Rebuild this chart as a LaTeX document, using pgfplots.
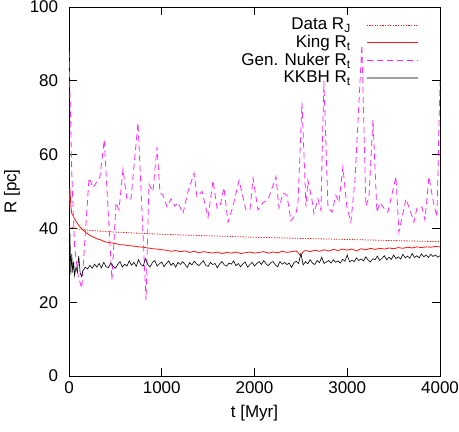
\documentclass[border=0pt]{standalone}
\usepackage{fontspec}
\setmainfont{Liberation Sans}
\usepackage{pgfplots}
\usepackage{pgfplotstable}
\pgfplotsset{compat=1.18}
\definecolor{mag}{RGB}{255,40,255}
\definecolor{gred}{RGB}{255,20,20}
\definecolor{lgray}{RGB}{160,160,160}

\pgfplotstableread{
t R
0 40.5
100 39.8
250 39.4
500 39.0
750 38.7
1000 38.4
1500 38.0
2000 37.6
2500 37.3
3000 37.0
3500 36.7
4000 36.4
}\dataRJ

\pgfplotstableread{
t R
0 45.5
10 51
20 46
30 44
45 43.5
60 42.5
80 41.8
100 41
125 40.2
150 39.6
175 39
200 38.6
225 38.1
250 37.8
275 37.5
300 37.2
325 37
350 36.8
375 36.5
400 36.3
450 36.1
500 35.9
550 35.6
600 35.5
650 35.3
700 35.2
750 35
800 34.9
850 34.7
900 34.5
950 34.4
1000 34.2
1050 34.1
1100 33.8
1150 34
1200 33.7
1250 33.9
1300 33.5
1350 33.8
1400 33.4
1450 33.7
1500 33.5
1550 33.3
1600 33.6
1650 33.2
1700 33.5
1750 33.3
1800 33.6
1850 33.2
1900 33.4
1950 33.6
2000 33.3
2050 33.5
2100 33.7
2150 33.3
2200 33.6
2250 33.4
2300 33.8
2350 33.5
2400 33.7
2450 33.9
2500 32.5
2525 33.8
2550 34
2600 33.7
2650 34.1
2700 33.8
2750 34.2
2800 33.9
2850 34.3
2900 34
2950 34.4
3000 34.1
3050 34.4
3100 33.9
3150 34.5
3200 34.2
3250 34.6
3300 34.3
3350 34.6
3400 34.4
3450 34.7
3500 34.5
3550 34.8
3600 34.6
3650 34.9
3700 34.7
3750 35
3800 34.8
3850 35
3900 34.9
3950 35.1
4000 35
}\king

\pgfplotstableread{
t R
0 88
30 55
60 35
100 27
137 23.8
216 53.7
260 51
334 54
380 64
463 26
507 47
539 45
582 56
625 47.7
668 48
744 68.6
830 20.6
862 52
905 50
949 62
981 49.6
1013 49
1057 45.8
1100 48
1143 46
1175 47
1229 44
1283 50
1348 55
1380 48.5
1434 50
1499 43
1553 53
1596 45.5
1628 46
1671 51
1714 41.7
1768 46
1833 53
1908 45
1951 45
1984 53.6
2038 45
2091 47
2145 47.7
2232 54
2264 45.5
2307 49.6
2350 49
2393 42
2447 44
2469 47
2512 74
2555 45.8
2576 53
2620 47.7
2641 44
2684 48
2716 45
2748 80
2792 45.8
2835 44.4
2878 49
2910 47
2953 56.6
2996 45.8
3039 41.7
3083 53
3158 89.7
3201 46
3234 48.5
3277 69.4
3320 44.4
3352 47
3395 45.5
3438 44.4
3525 54
3557 39
3633 48
3676 45
3719 41.7
3751 45.5
3805 45.8
3838 42.3
3881 54
3924 47.7
3967 43
4000 80
}\nuker

\pgfplotstableread{
t R
0 31.5
10 38.7
20 27.5
30 33
40 28
50 31
60 27.2
75 29.5
90 28.2
105 32.5
120 28
135 27
150 28.5
175 29.5
200 29
225 30
250 29.2
275 30.3
300 29.5
325 30.5
350 29.3
375 30.8
400 29.6
425 29.4
450 30.6
475 29.8
500 29.2
525 30.2
550 31
575 29.5
600 30.3
625 29.8
650 31.2
675 30
700 30.8
725 29.7
750 31.5
775 30.2
800 29.8
825 31.8
850 30.2
875 29.6
900 30.8
925 31.3
950 29.8
975 30.4
1000 30.9
1025 29.6
1050 30.5
1075 31.2
1100 30
1125 30.6
1150 29.5
1175 30.8
1200 30.2
1225 31
1250 30.3
1275 29.4
1300 30.7
1325 30.1
1350 31.1
1375 30.4
1400 29.9
1425 30.6
1450 31.2
1475 30
1500 29.7
1525 30.8
1550 30.2
1575 30.5
1600 29.3
1625 30.4
1650 31
1675 30.1
1700 29.8
1725 30.6
1750 30.3
1775 31.2
1800 29.9
1825 30.5
1850 29.6
1875 30.4
1900 30.9
1925 29.5
1950 30.2
1975 30.8
2000 29.8
2025 30.5
2050 31
2075 30.2
2100 31.3
2125 30.4
2150 29.9
2175 30.7
2200 31
2225 30.1
2250 29.6
2275 31
2300 30.3
2325 30.8
2350 30.2
2375 30.6
2400 29.4
2425 30.7
2450 31.1
2475 30.5
2500 33.2
2525 30.1
2550 31
2575 30.4
2600 31.5
2625 30.6
2650 30.2
2675 31.3
2700 30.7
2725 32.2
2750 30.5
2775 30.9
2800 31.3
2825 30.6
2850 31.5
2875 30.8
2900 31.2
2925 30.6
2950 31.6
2975 31.1
3000 32.8
3025 30.9
3050 31.4
3075 31
3100 32
3125 31.3
3150 31.7
3175 31.2
3200 32.3
3225 31.4
3250 30.9
3275 31.8
3300 31.5
3325 32.5
3350 31.3
3375 31.9
3400 32.6
3425 31.5
3450 32.2
3475 31.6
3500 32.8
3525 31.8
3550 32.3
3575 31.7
3600 33
3625 32
3650 32.5
3675 31.9
3700 33.2
3725 32.1
3750 32.6
3775 32
3800 33.1
3825 32.3
3850 32.8
3875 32.1
3900 33
3925 32.4
3950 32.8
3975 32.2
4000 32.6
}\kkbh

\begin{document}
\fontsize{17}{20}\selectfont
\begin{tikzpicture}
\begin{axis}[
  scale only axis,
  width=371pt, height=369pt,
  xmin=0, xmax=4000, ymin=0, ymax=100,
  xtick={0,1000,2000,3000,4000},
  ytick={0,20,40,60,80,100},
  tick align=inside,
  major tick length=8pt,
  minor tick num=0,
  axis line style={line width=0.8pt},
  every tick/.style={black, line width=0.8pt},
  /pgf/number format/assume math mode=true,
  /pgf/number format/1000 sep={},
  ticklabel style={font=\fontsize{17}{20}\selectfont},
  yticklabel style={xshift=-5pt},
  label style={font=\fontsize{17}{20}\selectfont},
  xlabel={t [Myr]},
  ylabel={R [pc]},
  every axis x label/.style={at={(axis description cs:0.5,0)}, yshift=-37pt, anchor=center},
  every axis y label/.style={at={(axis description cs:0,0.5)}, xshift=-57pt, rotate=90, anchor=center},
  legend plot pos=right,
  legend cell align=right,
  legend style={draw=none, fill=none, at={(1,1)}, anchor=north east,
    xshift=-21pt, yshift=-9pt, font=\fontsize{17}{20}\selectfont,
    row sep=-1pt, inner sep=0pt},
  legend image code/.code={\path[draw=none, fill=none] (0pt,-2pt) rectangle (65pt,2pt); \path[draw] (14pt,0pt) -- (65pt,0pt);},
]
\addplot[color=gred, line width=0.8pt, dash pattern=on 1.2pt off 1.4pt] table[x=t,y=R] {\dataRJ};
\addlegendentry{Data R\textsubscript{J}}
\addplot[color=gred, line width=0.8pt] table[x=t,y=R] {\king};
\addlegendentry{King R\textsubscript{t}}
\addplot[color=mag, line width=0.8pt, dash pattern=on 6pt off 4pt] table[x=t,y=R] {\nuker};
\addlegendentry{Gen. Nuker R\textsubscript{t}}
\addplot[color=black, line width=0.6pt, forget plot] table[x=t,y=R] {\kkbh};
\addlegendimage{color=lgray, line width=2.2pt}
\addlegendentry{KKBH R\textsubscript{t}}
\end{axis}
\pgfresetboundingbox
\path[use as bounding box] (current axis.south west) ++(-69pt,-55pt) rectangle ([xshift=19pt,yshift=7pt]current axis.north east);
\end{tikzpicture}
\end{document}
